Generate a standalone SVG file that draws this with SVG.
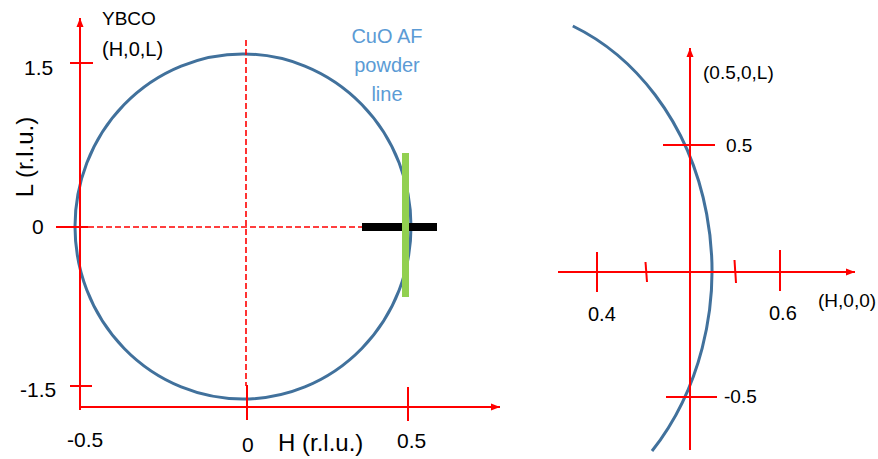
<svg xmlns="http://www.w3.org/2000/svg" width="878" height="459" viewBox="0 0 878 459">
<defs>
<marker id="arr" markerUnits="userSpaceOnUse" markerWidth="10" markerHeight="10" viewBox="0 0 10 10" refX="9" refY="5" orient="auto">
<path d="M0,1.5 L9,5 L0,8.5 Z" fill="#FF0000"/>
</marker>
<style>
.ax{stroke:#FF0000;stroke-width:2;fill:none}
.dash{stroke:#FF0000;stroke-width:1.6;fill:none;stroke-dasharray:6 3}
.ring{stroke:#41719C;stroke-width:3;fill:none}
.t{font-family:"Liberation Sans",Arial,sans-serif;fill:#000}
.b{font-family:"Liberation Sans",Arial,sans-serif;fill:#5B9BD5}
</style>
</defs>
<rect width="878" height="459" fill="#FFFFFF"/>

<g id="left-panel">
<g id="left-ring"><ellipse class="ring" cx="243" cy="226.5" rx="168" ry="172.5"/></g>
<g id="left-axes">
<line class="ax" x1="80" y1="410" x2="80" y2="18" marker-end="url(#arr)"/>
<line class="ax" x1="80" y1="407" x2="500" y2="407" marker-end="url(#arr)"/>
<line class="ax" x1="70" y1="63" x2="93" y2="63"/>
<line class="ax" x1="70" y1="386" x2="92" y2="386"/>
<line class="ax" x1="56" y1="227" x2="88" y2="227"/>
<line class="dash" x1="88" y1="227" x2="362" y2="227"/>
<line class="dash" x1="246" y1="40" x2="246" y2="386"/>
<line class="ax" x1="247" y1="385" x2="247" y2="420"/>
<line class="ax" x1="408" y1="387" x2="408" y2="421"/>
</g>
<g id="black-bar"><rect x="362" y="223" width="75" height="8" fill="#000000"/></g>
<g id="green-bar"><rect x="402" y="153" width="7" height="144" fill="#92D050"/></g>
<g id="left-labels">
<text class="t" x="102" y="25" font-size="19">YBCO</text>
<text class="t" x="102" y="56" font-size="20">(H,0,L)</text>
<text class="t" x="24" y="75" font-size="21">1.5</text>
<text class="t" x="32" y="234" font-size="21">0</text>
<text class="t" x="20" y="397" font-size="21">-1.5</text>
<text class="t" x="67" y="447" font-size="21">-0.5</text>
<text class="t" x="242" y="452" font-size="21">0</text>
<text class="t" x="278" y="451" font-size="24">H (r.l.u.)</text>
<text class="t" x="397" y="448" font-size="21">0.5</text>
<text class="t" font-size="24" text-anchor="middle" transform="translate(33,157) rotate(-90)">L (r.l.u.)</text>
<text class="b" x="387" y="43" font-size="20" text-anchor="middle">CuO AF</text>
<text class="b" x="387" y="72" font-size="20" text-anchor="middle">powder</text>
<text class="b" x="387" y="101" font-size="20" text-anchor="middle">line</text>
</g>
</g>

<g id="right-panel">
<g id="right-ring"><path class="ring" d="M572.8,26 A225,265 0 0 1 652,451"/></g>
<g id="right-axes">
<line class="ax" x1="690" y1="450" x2="690" y2="48" marker-end="url(#arr)"/>
<line class="ax" x1="558" y1="272" x2="855" y2="272" marker-end="url(#arr)"/>
<line class="ax" x1="663" y1="145" x2="715" y2="145"/>
<line class="ax" x1="666" y1="397" x2="717" y2="397"/>
<line class="ax" x1="597" y1="252" x2="597" y2="292"/>
<line class="ax" x1="780" y1="250" x2="780" y2="291"/>
<line class="ax" x1="645.5" y1="262" x2="647" y2="282"/>
<line class="ax" x1="734.5" y1="260" x2="736" y2="283"/>
</g>
<g id="right-labels">
<text class="t" x="703" y="79" font-size="19">(0.5,0,L)</text>
<text class="t" x="726" y="152" font-size="19">0.5</text>
<text class="t" x="724" y="403" font-size="19">-0.5</text>
<text class="t" x="588" y="321" font-size="20">0.4</text>
<text class="t" x="769" y="320" font-size="20">0.6</text>
<text class="t" x="818" y="307" font-size="19">(H,0,0)</text>
</g>
</g>
</svg>
